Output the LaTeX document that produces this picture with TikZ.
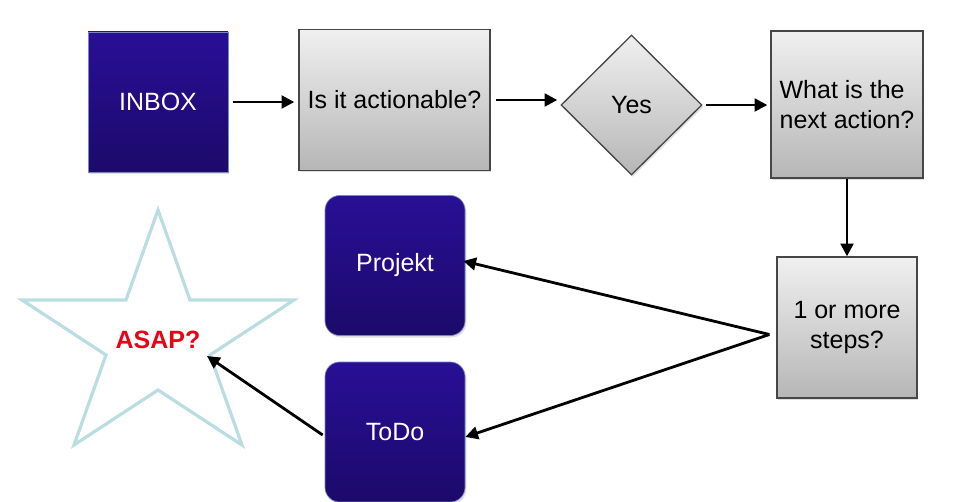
\documentclass[tikz,border=0pt]{standalone}
\usepackage{fontspec}
\setmainfont{Liberation Sans}
\usetikzlibrary{arrows.meta,shapes.geometric,shadows,calc}

\definecolor{inboxtop}{RGB}{40,15,150}
\definecolor{inboxbot}{RGB}{28,10,106}
\definecolor{inboxedge}{RGB}{120,135,190}
\definecolor{graytop}{RGB}{240,240,240}
\definecolor{graybot}{RGB}{182,182,182}
\definecolor{grayedge}{RGB}{70,70,70}
\definecolor{staredge}{RGB}{186,221,226}
\definecolor{asapred}{RGB}{235,0,22}

\tikzset{every picture/.style={line width=0.75pt}}
\tikzset{
  boxfont/.style={font=\fontsize{18.75}{22}\selectfont},
  softshadow/.style={drop shadow={shadow xshift=1pt,shadow yshift=-1.5pt,opacity=0.25}},
  bluebox/.style={boxfont, draw=inboxedge, line width=0.5pt, top color=inboxtop, bottom color=inboxbot,
    text=white, minimum width=105pt, minimum height=105pt, inner sep=0pt, softshadow},
  graybox/.style={boxfont, draw=grayedge, line width=1pt, top color=graytop, bottom color=graybot,
    minimum width=105pt, minimum height=105.75pt, inner sep=0pt, softshadow},
  graydiamond/.style={graybox, shape=diamond, aspect=1, minimum width=105.75pt, minimum height=105pt},
  starline/.style={draw=staredge, line width=2.4pt, fill=white, line join=miter},
  arr/.style={line width=2.1pt, -{Triangle[length=9.5pt,width=9.5pt]}}
}

\begin{document}
\begin{tikzpicture}[x=0.75pt,y=0.75pt,yscale=-1,xscale=1]
\useasboundingbox (0,0) rectangle (969,502);

%Shape: Square
\node[bluebox] (inbox) at (158,102) {INBOX};
%Shape: Rectangle
\node[graybox, minimum width=143.25pt] (actionable) at (394.5,100) {Is it actionable?};
%Shape: Diamond
\node[graydiamond] (yes) at (631.5,105) {Yes};
%Shape: Rectangle
\node[graybox, minimum width=114pt, minimum height=110.25pt, align=left] (nextaction) at (847,104.5) {What is the\\next action?};
%Shape: Square
\node[graybox, align=center] (steps) at (847,327.5) {1 or more\\steps?};
%Rounded Rect
\node[bluebox, rounded corners=11pt] (projekt) at (395,265.5) {Projekt};
%Rounded Rect
\node[bluebox, rounded corners=11pt] (todo) at (395,432) {ToDo};

%Star
\draw[starline] (158,210) -- (190,300) -- (294,300) -- (210,355) -- (242,445) -- (158,390) -- (74,445) -- (106,355) -- (22,300) -- (126,300) -- cycle;
% Text Node
\node[boxfont, font=\fontsize{18.75}{22}\selectfont\bfseries, text=asapred] (asap) at (158,340) {ASAP?};
\coordinate (asaptip) at (207,356);

%Straight Lines
\draw[arr, shorten <=3.75pt, shorten >=3pt] (inbox.east) -- (inbox.east -| actionable.west);
%Straight Lines
\draw[arr, shorten <=3.75pt, shorten >=2.25pt] (actionable.east) -- (actionable.east -| yes.west);
%Straight Lines
\draw[arr, shorten <=2.25pt, shorten >=2.25pt] (yes.east) -- (yes.east -| nextaction.west);
%Straight Lines
\draw[arr] (nextaction.south) -- (steps.north);
%Straight Lines
\draw[arr] ($(steps.west)+(-7,7)$) -- ($(projekt.east)+(-2,-4.5)$);
%Straight Lines
\draw[arr] ($(steps.west)+(-7,7)$) -- ($(todo.east)+(0,5)$);
%Straight Lines
\draw[arr] ($(todo.west)+(-2,3)$) -- (asaptip);

\end{tikzpicture}
\end{document}
